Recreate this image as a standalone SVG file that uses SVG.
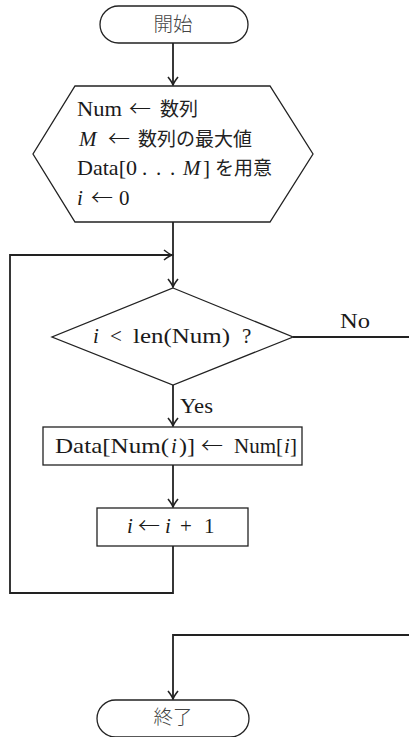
<svg xmlns="http://www.w3.org/2000/svg" width="409" height="737" viewBox="0 0 409 737">
  <style>
    .shape { fill: #ffffff; stroke: #222; stroke-width: 1.3; }
    .edge { fill: none; stroke: #222; stroke-width: 1.8; }
    .t { font-family: "Liberation Serif", "Noto Sans CJK JP", serif; font-size: 21px; fill: #1a1a1a; }
    .jp { font-family: "Noto Sans CJK JP", sans-serif; font-weight: 400; font-size: 19px; fill: #222; }
    .term { font-family: "Noto Sans CJK JP", sans-serif; font-weight: 300; font-size: 19.5px; fill: #444; }
    .ar { font-family: "Noto Sans CJK JP", sans-serif; font-weight: 300; font-size: 22px; }
    .it { font-style: italic; }
  </style>
  <defs>
    <marker id="arrow" viewBox="-10 -6 12 12" markerWidth="12" markerHeight="12" refX="0" refY="0" orient="auto" markerUnits="userSpaceOnUse">
      <path d="M-8,-5 Q-3,-1 0,0 Q-3,1 -8,5" fill="none" stroke="#222" stroke-width="1.6"/>
    </marker>
  </defs>

  <!-- connectors -->
  <g id="connectors">
    <path class="edge" d="M173,43 V85" marker-end="url(#arrow)"/>
    <path class="edge" d="M173,222 V287" marker-end="url(#arrow)"/>
    <path class="edge" d="M173,546 V593 H10 V255 H172" marker-end="url(#arrow)"/>
    <path class="edge" d="M173,385 V426" marker-end="url(#arrow)"/>
    <path class="edge" d="M173,465 V507" marker-end="url(#arrow)"/>
    <path class="edge" d="M293,337 H409"/>
    <path class="edge" d="M409,635 H173 V699" marker-end="url(#arrow)"/>
    <text class="t" x="340" y="328" textLength="30" lengthAdjust="spacingAndGlyphs">No</text>
    <text class="t" x="180" y="413" textLength="33" lengthAdjust="spacingAndGlyphs">Yes</text>
  </g>

  <!-- start terminal -->
  <g id="start">
    <rect class="shape" x="100" y="6" width="148" height="37" rx="18.5"/>
    <text class="term" x="173" y="31" text-anchor="middle">開始</text>
  </g>

  <!-- initialisation -->
  <g id="init">
    <polygon class="shape" points="75,86 270,86 313,154 270,222 75,222 33,154"/>
    <text class="t" y="116"><tspan x="77" textLength="45" lengthAdjust="spacingAndGlyphs">Num</tspan><tspan class="ar" x="129">←</tspan><tspan class="jp" x="160">数列</tspan></text>
    <text class="t" y="146"><tspan class="it" x="79">M</tspan><tspan class="ar" x="108">←</tspan><tspan class="jp" x="138">数列の最大値</tspan></text>
    <text class="t" y="175"><tspan x="77" textLength="60" lengthAdjust="spacingAndGlyphs">Data[0</tspan><tspan x="142">.</tspan><tspan x="156">.</tspan><tspan x="170">.</tspan><tspan class="it" x="183">M</tspan><tspan x="203">]</tspan><tspan class="jp" x="215">を用意</tspan></text>
    <text class="t" y="205"><tspan class="it" x="77">i</tspan><tspan class="ar" x="91">←</tspan><tspan x="119">0</tspan></text>
  </g>

  <!-- loop condition -->
  <g id="cond">
    <polygon class="shape" points="173,288 293,337 173,385 52,337"/>
    <text class="t" y="343"><tspan class="it" x="93">i</tspan><tspan x="110">&lt;</tspan><tspan x="133" textLength="97" lengthAdjust="spacingAndGlyphs">len(Num)</tspan><tspan x="242">?</tspan></text>
  </g>

  <!-- store -->
  <g id="store">
    <rect class="shape" x="43" y="427" width="259" height="38"/>
    <text class="t" y="453"><tspan x="55" textLength="114" lengthAdjust="spacingAndGlyphs">Data[Num(</tspan><tspan class="it" x="171">i</tspan><tspan x="179" textLength="16" lengthAdjust="spacingAndGlyphs">)]</tspan><tspan class="ar" x="201">←</tspan><tspan x="234">Num[</tspan><tspan class="it" x="284">i</tspan><tspan x="290">]</tspan></text>
  </g>

  <!-- increment -->
  <g id="incr">
    <rect class="shape" x="97" y="508" width="151" height="38"/>
    <text class="t" y="533"><tspan class="it" x="127">i</tspan><tspan class="ar" x="138">←</tspan><tspan class="it" x="165">i</tspan><tspan x="180">+</tspan><tspan x="204">1</tspan></text>
  </g>

  <!-- end terminal -->
  <g id="end">
    <rect class="shape" x="97" y="700" width="152" height="37" rx="18.5"/>
    <text class="term" x="173" y="724" text-anchor="middle">終了</text>
  </g>
</svg>
